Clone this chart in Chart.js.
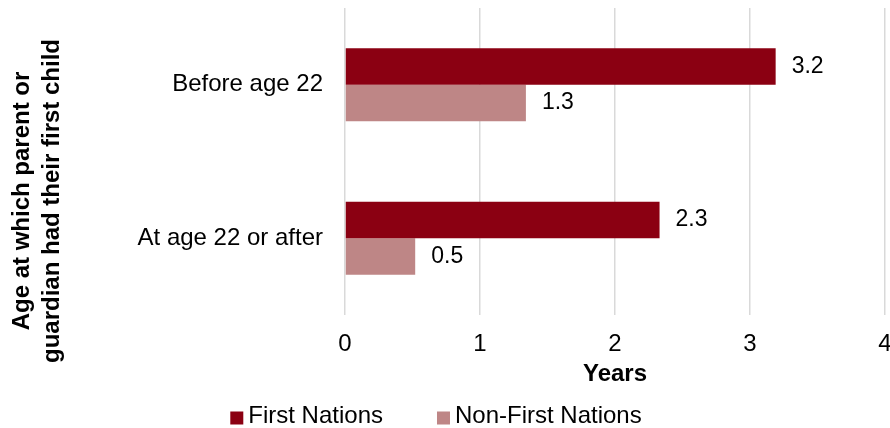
<!DOCTYPE html>
<html>
<head>
<meta charset="utf-8">
<script src="https://cdn.jsdelivr.net/npm/chart.js@4.4.1/dist/chart.umd.min.js"></script>
<style>
  html, body { margin: 0; padding: 0; background: #ffffff; overflow: hidden; }
  #wrap { width: 890px; height: 428px; }
</style>
</head>
<body>
<div id="wrap"><canvas id="c" width="890" height="428"></canvas></div>
<script>
// ---- Data ----
const categories = ['Before age 22', 'At age 22 or after'];
const seriesNames = ['First Nations', 'Non-First Nations'];
const firstNations = [3.19, 2.33];
const nonFirstNations = [1.34, 0.52];
const xTickValues = [0, 1, 2, 3, 4];
const yTitleLines = ['Age at which parent or', 'guardian had their first child'];
const xTitle = 'Years';

// ---- Styles / layout ----
const FAMILY = '"Liberation Sans", Arial, Helvetica, sans-serif';
const colors = ['#8B0012', '#BE8686'];
const PLOT_LEFT = 345;      // left edge of plot area
const X_AXIS_HEIGHT = 79;   // band below plot for tick labels + axis title

const dataLabels = {
  id: 'dataLabels',
  afterDatasetsDraw(chart) {
    const ctx = chart.ctx;
    ctx.save();
    ctx.font = '23px ' + FAMILY;
    ctx.fillStyle = '#000';
    ctx.textAlign = 'left';
    ctx.textBaseline = 'middle';
    chart.data.datasets.forEach((ds, i) => {
      const meta = chart.getDatasetMeta(i);
      meta.data.forEach((bar, j) => {
        ctx.fillText(ds.data[j].toFixed(1), bar.x + 16, bar.y);
      });
    });
    ctx.restore();
  }
};

const customLegend = {
  id: 'customLegend',
  afterDraw(chart) {
    const ctx = chart.ctx;
    ctx.save();
    ctx.font = '24px ' + FAMILY;
    ctx.textAlign = 'left';
    ctx.textBaseline = 'middle';
    const box = 13, gap = 5, spacing = 54;
    const items = chart.data.datasets.map(ds => ({
      text: ds.label, color: ds.backgroundColor, w: ctx.measureText(ds.label).width
    }));
    const total = items.reduce((s, it) => s + box + gap + it.w, 0) + spacing * (items.length - 1);
    let x = chart.width / 2 - 9 - total / 2;
    const y = chart.height - 12;
    items.forEach(it => {
      ctx.fillStyle = it.color;
      ctx.fillRect(x, y - box / 2 + 2, box, box);
      ctx.fillStyle = '#000';
      ctx.fillText(it.text, x + box + gap, y);
      x += box + gap + it.w + spacing;
    });
    ctx.restore();
  }
};

new Chart(document.getElementById('c'), {
  type: 'bar',
  data: {
    labels: categories,
    datasets: [
      { label: seriesNames[0], data: firstNations, backgroundColor: colors[0] },
      { label: seriesNames[1], data: nonFirstNations, backgroundColor: colors[1] }
    ]
  },
  options: {
    indexAxis: 'y',
    responsive: false,
    animation: false,
    events: [],
    datasets: { bar: { categoryPercentage: 0.475, barPercentage: 1 } },
    layout: { padding: { top: 8, bottom: 34, left: 0, right: 5 } },
    scales: {
      x: {
        min: xTickValues[0],
        max: xTickValues[xTickValues.length - 1],
        afterBuildTicks(scale) { scale.ticks = xTickValues.map(v => ({ value: v })); },
        afterFit(scale) {
          scale.height = X_AXIS_HEIGHT;
          scale.paddingLeft = 0;
          scale.paddingRight = 0;
        },
        ticks: { font: { size: 24, family: FAMILY }, color: '#000', padding: 15 },
        grid: { color: '#D9D9D9', lineWidth: 1.5, drawTicks: false },
        border: { display: false },
        title: {
          display: true, text: xTitle, color: '#000',
          font: { size: 24, weight: 'bold', family: FAMILY },
          padding: { top: 2, bottom: 5 }
        }
      },
      y: {
        afterFit(scale) {
          const tb = scale.chart.titleBlock;
          scale.width = PLOT_LEFT - (tb ? tb.width : 0);
          scale.paddingTop = 0;
          scale.paddingBottom = 0;
        },
        ticks: { font: { size: 24, family: FAMILY }, color: '#000', padding: 22 },
        grid: { display: false, drawTicks: false },
        border: { display: false }
      }
    },
    plugins: {
      legend: { display: false },
      tooltip: { enabled: false },
      title: {
        display: true,
        position: 'left',
        text: yTitleLines,
        color: '#000',
        font: { size: 24, weight: 'bold', family: FAMILY, lineHeight: 1.22 },
        padding: { top: 8, bottom: 4 }
      }
    }
  },
  plugins: [dataLabels, customLegend]
});
</script>
</body>
</html>
